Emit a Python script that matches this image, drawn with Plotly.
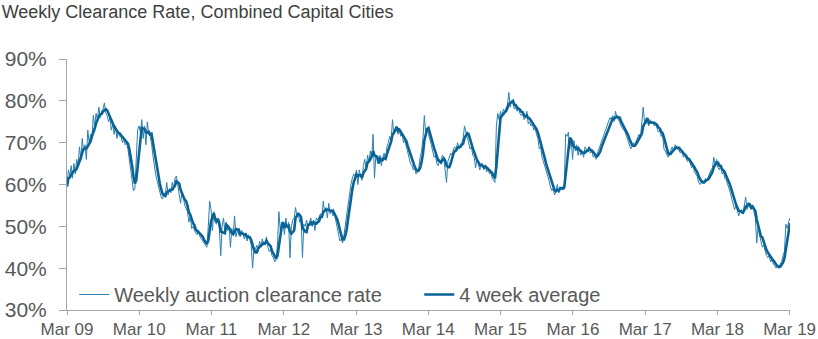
import pandas as pd
import plotly.graph_objects as go

title_text = "Weekly Clearance Rate, Combined Capital Cities"
series_weekly_name = "Weekly auction clearance rate"
series_avg_name = "4 week average"
start_date = "2009-03-01"

# Weekly auction clearance rate (%), one block per year starting March
wk_2009 = [59.5, 63.5, 62, 64.5, 61.5, 65, 62.5, 66, 64.5, 69, 66, 71, 68,
           69.5, 66, 73, 70, 72, 71, 76.5, 74, 77, 75.5, 78.5, 76, 77.5,
           78, 79.5, 77, 76.5, 75, 76, 73, 74.5, 72, 74, 71, 72.5, 71.5,
           71.5, 70, 71, 69.5, 70, 68.5, 66, 63, 60.5, 58.5, 59, 66, 73]
wk_2010 = [74, 72.5, 75.5, 71, 74, 69.5, 75, 72, 71.5, 70, 67, 64, 62.5,
           61, 59.5, 58, 57, 56.5, 58, 57.5, 60.5, 57.5, 59, 58, 60.5, 59,
           61.5, 62, 59.5, 58, 55.5, 58, 57, 55, 54, 53.5, 51, 52.5, 49.5,
           50, 49, 48.5, 48, 49, 47.5, 47, 46.5, 46, 45.5, 45, 50, 56]
wk_2011 = [54, 49, 53.5, 51, 50.5, 52, 49.5, 43, 50, 52, 48.5, 51, 49,
           50, 45, 49.5, 48, 52.5, 47.5, 49, 48, 47.5, 49, 48.5, 47, 48,
           46.5, 48, 47, 45.5, 40, 45, 44.5, 45.5, 44, 46.5, 45, 47, 45.5,
           46, 47.5, 45, 44, 44.5, 43, 42.5, 41.5, 42, 46, 53.5, 49, 51]
wk_2012 = [50.5, 48, 52, 49.5, 51, 42.5, 50, 51.5, 52, 54.5, 52.5, 53, 51,
           52, 42.5, 50.5, 50, 51.5, 49.5, 50.5, 52, 50, 51.5, 49, 52, 51.5,
           52.5, 53, 52, 56, 53.5, 54.5, 52, 55.5, 53, 54, 52.5, 53, 51.5,
           50, 48, 46.5, 47, 46, 48, 50.5, 53, 56, 58, 60, 61.5, 62.5]
wk_2013 = [62, 63.5, 60, 63.5, 62, 61, 64.5, 66, 63.5, 67, 65.5, 68, 66.5,
           72, 61.5, 67, 66, 65.5, 67, 64.5, 66.5, 67.5, 66, 69, 70, 71.5,
           70.5, 75.5, 72, 73.5, 74, 72, 73, 71.5, 72, 70, 70.5, 69, 67.5,
           66, 65, 64.5, 63.5, 64, 62.5, 63, 64, 66.5, 68, 71, 76.5, 72]
wk_2014 = [73.5, 72, 71, 69.5, 68, 66.5, 67, 65, 64.5, 66, 65.5, 67, 66.5,
           64, 60.5, 65.5, 66.5, 67.5, 67, 68.5, 69, 68, 70, 68.5, 69.5, 70,
           71, 74, 72.5, 71.5, 70, 68.5, 69, 67, 66.5, 64, 66, 65, 63.5,
           64.5, 65, 63.5, 64.5, 63, 64, 62.5, 63, 61.5, 61, 60.5, 74, 77]
wk_2015 = [75.5, 77.5, 76, 78, 77.5, 78.5, 79, 82, 78.5, 80, 79.5, 78, 78.5,
           77.5, 78.5, 77, 76.5, 77, 75.5, 76, 77.5, 74.5, 75, 74, 74.5, 73,
           73.5, 72, 71, 68.5, 69, 66.5, 65.5, 64, 63.5, 62, 61, 59.5, 58.5,
           59, 57.5, 58.5, 60, 58, 59.5, 59, 59.5, 59, 72, 71.5, 72.5, 68.5]
wk_2016 = [71, 66, 70.5, 68, 69.5, 67, 68.5, 67, 68, 66.5, 69, 68.5, 68,
           69, 67.5, 68, 66.5, 67, 66, 67.5, 68.5, 69.5, 70.5, 71, 72.5, 73,
           74, 75, 76, 75.5, 76.5, 75, 77.5, 76, 75.5, 75, 74, 73.5, 73,
           72.5, 71.5, 70.5, 69.5, 68.5, 69, 70, 69.5, 70.5, 71.5, 72, 71, 74]
wk_2017 = [78.5, 75, 74.5, 75.5, 74, 75.5, 74.5, 75, 74, 74.5, 73.5, 72.5, 73,
           71.5, 72, 68.5, 68, 67, 66.5, 67.5, 68.5, 69, 68, 69.5, 69, 68.5,
           68, 67.5, 68, 66.5, 67, 66, 65.5, 66, 65, 64, 64.5, 63, 62.5,
           62, 60.5, 60, 60.5, 61, 60.5, 61.5, 61, 62, 62.5, 63.5, 64, 66.5]
wk_2018 = [64.5, 66, 64, 63.5, 64.5, 62.5, 63, 61.5, 61, 60, 59.5, 58, 56.5,
           55.5, 54, 55, 53.5, 52.5, 53.5, 54, 53, 55, 57, 54, 55.5, 54.5,
           54, 55, 53.5, 52, 46, 50, 48, 46.5, 45, 45.5, 44, 43, 42.5,
           43, 41.5, 42, 41, 40.5, 40, 40.5, 40, 41, 41.5, 43, 44, 50.5]
wk_2019 = [49.5, 51, 52]

tick_dates = ["2009-03-01", "2010-03-01", "2011-03-01", "2012-03-01", "2013-03-01",
              "2014-03-01", "2015-03-01", "2016-03-01", "2017-03-01", "2018-03-01",
              "2019-03-01"]
tick_labels = ["Mar 09", "Mar 10", "Mar 11", "Mar 12", "Mar 13", "Mar 14",
               "Mar 15", "Mar 16", "Mar 17", "Mar 18", "Mar 19"]
y_ticks = [30, 40, 50, 60, 70, 80, 90]
y_labels = ["30%", "40%", "50%", "60%", "70%", "80%", "90%"]

weekly = (wk_2009 + wk_2010 + wk_2011 + wk_2012 + wk_2013 + wk_2014 +
          wk_2015 + wk_2016 + wk_2017 + wk_2018 + wk_2019)
dates = pd.date_range(start_date, periods=len(weekly), freq="7D")
avg4 = pd.Series(weekly).rolling(4, min_periods=1).mean().tolist()

FONT = "Liberation Sans, Arial, sans-serif"
GRAY = "#595959"
AXIS = "#a6a6a6"

fig = go.Figure()
fig.add_trace(go.Scatter(x=dates, y=weekly, mode="lines", name=series_weekly_name,
                         line=dict(color="#2b80b4", width=1)))
fig.add_trace(go.Scatter(x=dates, y=avg4, mode="lines", name=series_avg_name,
                         line=dict(color="#0a6394", width=2.6)))

fig.update_layout(
    width=818, height=339,
    margin=dict(l=67, r=28, t=59, b=29, autoexpand=False),
    paper_bgcolor="white", plot_bgcolor="white",
    font=dict(family=FONT, color=GRAY),
    title=dict(text=title_text, x=0.002, xanchor="left", y=0.985, yanchor="top",
               font=dict(family=FONT, size=18, color="#404040")),
    showlegend=True,
    legend=dict(orientation="h", x=0.01, xanchor="left", y=-0.016, yanchor="bottom",
                font=dict(family=FONT, size=20, color=GRAY),
                bgcolor="rgba(0,0,0,0)", entrywidth=300, tracegroupgap=0),
    xaxis=dict(type="date", range=["2009-03-01", "2019-03-03"],
               tickvals=tick_dates, ticktext=tick_labels, automargin=False,
               showline=True, linecolor=AXIS, linewidth=1,
               ticks="outside", ticklen=4, tickcolor=AXIS,
               showgrid=False, zeroline=False,
               tickfont=dict(family=FONT, size=17, color=GRAY)),
    yaxis=dict(range=[30, 90], tickvals=y_ticks, ticktext=y_labels, automargin=False,
               showline=True, linecolor=AXIS, linewidth=1,
               ticks="outside", ticklen=7, tickcolor=AXIS, ticklabelstandoff=8,
               showgrid=False, zeroline=False,
               tickfont=dict(family=FONT, size=21, color=GRAY)),
)

fig.write_html("out.html")
